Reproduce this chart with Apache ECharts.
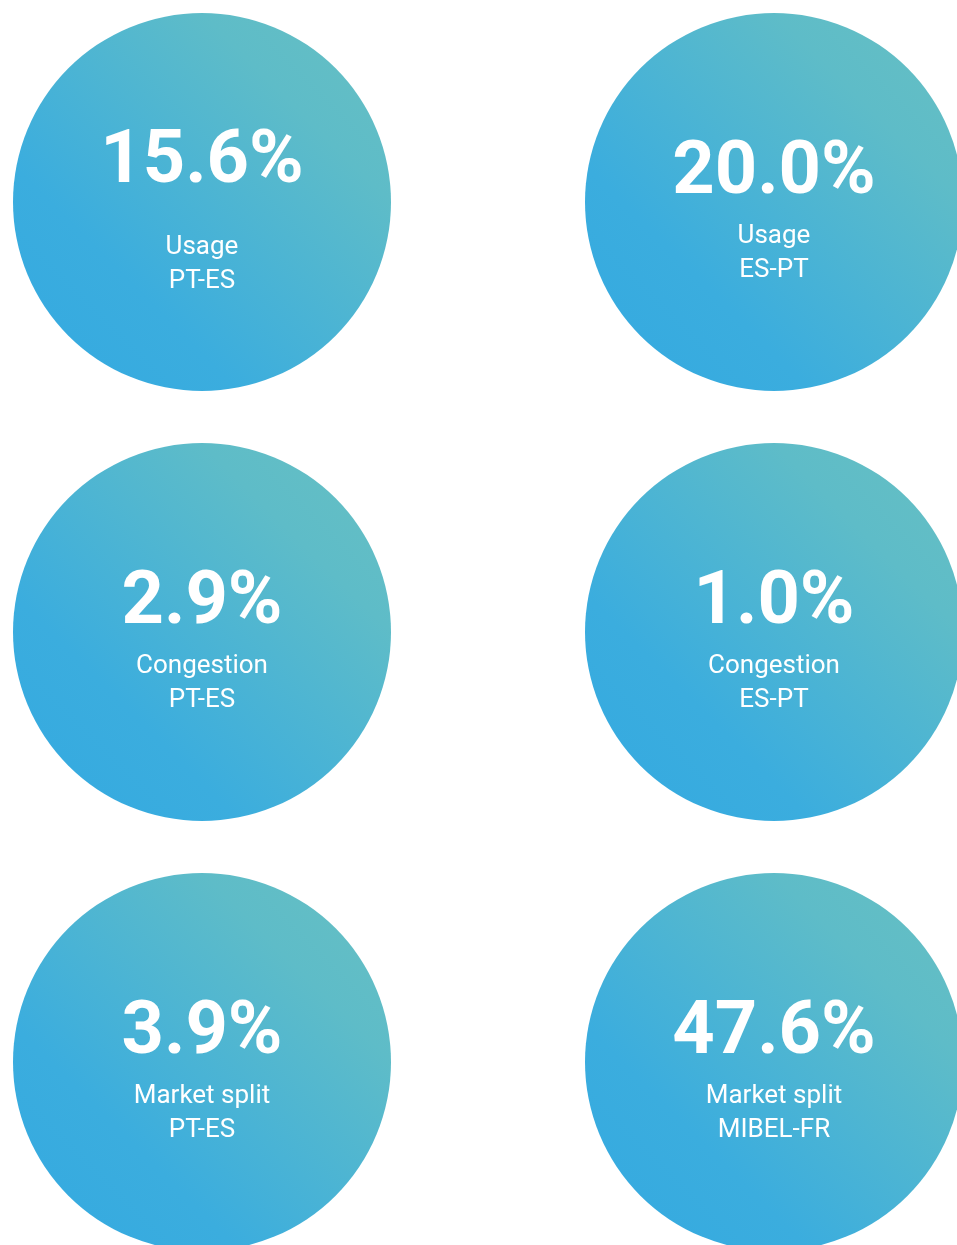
<!DOCTYPE html>
<html>
<head>
<meta charset="utf-8">
<script src="https://cdn.jsdelivr.net/npm/echarts@6/dist/echarts.min.js"></script>
<style>
    html, body { margin: 0; padding: 0; background: #fff; }
    #chart { width: 957px; height: 1245px; }
</style>
</head>
<body>
<div id="chart"></div>
<script>
    // column / row of each circle, then what is written inside
    const cols = [0, 1, 0, 1, 0, 1];
    const rows = [0, 0, 1, 1, 2, 2];
    const values = ['15.6%', '20.0%', '2.9%', '1.0%', '3.9%', '47.6%'];
    const metrics = ['Usage', 'Usage', 'Congestion', 'Congestion', 'Market split', 'Market split'];
    const routes = ['PT-ES', 'ES-PT', 'PT-ES', 'ES-PT', 'PT-ES', 'MIBEL-FR'];

    const chart = echarts.init(document.getElementById('chart'));

    // blue bottom-left -> teal top-right
    const bubble = () => new echarts.graphic.LinearGradient(0, 1, 1, 0, [
        { offset: 0, color: '#33a9e1' },
        { offset: 0.3, color: '#3badde' },
        { offset: 0.75, color: '#5ebcc8' },
        { offset: 1, color: '#67c0c2' }
    ]);

    const data = values.map((v, i) => {
        const item = {
            value: [cols[i], rows[i]],
            itemStyle: { color: bubble(), opacity: 1 }
        };
        // first one has more room between number and label
        if (i === 0) {
            item.label = { offset: [0, -5], rich: { v: { lineHeight: 134 } } };
        }
        return item;
    });

    const option = {
        animation: false,
        grid: { left: 202, top: 202, width: 572, height: 860 },
        xAxis: { type: 'value', min: 0, max: 1, show: false },
        yAxis: { type: 'value', min: 0, max: 2, inverse: true, show: false },
        series: [{
            type: 'scatter',
            symbol: 'circle',
            symbolSize: 378,
            clip: false,
            data: data,
            itemStyle: { opacity: 1 },
            label: {
                show: true,
                position: 'inside',
                offset: [0, 6],
                opacity: 1,
                formatter: p => `{v|${values[p.dataIndex]}}\n{t|${metrics[p.dataIndex]}}\n{t|${routes[p.dataIndex]}}`,
                rich: {
                    v: {
                        fontFamily: 'Roboto',
                        fontWeight: 'bold',
                        fontSize: 74,
                        color: '#fff',
                        lineHeight: 91,
                        align: 'center'
                    },
                    t: {
                        fontFamily: 'Roboto',
                        fontSize: 26,
                        color: '#fff',
                        lineHeight: 34,
                        align: 'center'
                    }
                }
            },
            emphasis: { disabled: true }
        }]
    };

    chart.setOption(option);
</script>
</body>
</html>
